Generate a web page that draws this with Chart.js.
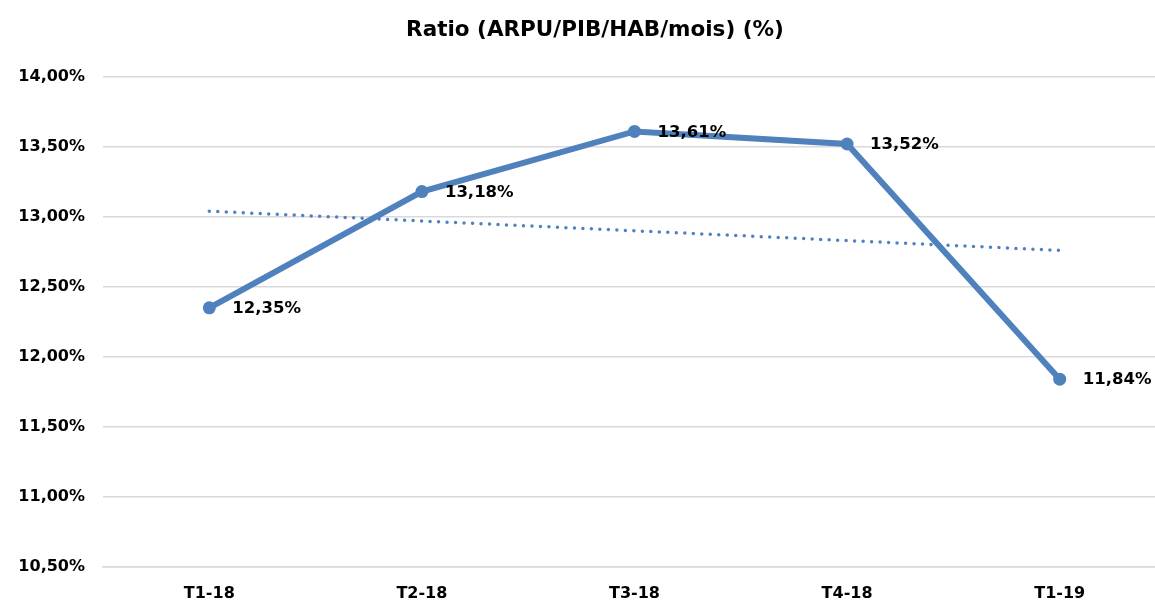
<!DOCTYPE html>
<html lang="fr">
<head>
<meta charset="utf-8" />
<title>Ratio (ARPU/PIB/HAB/mois) (%)</title>
<script src="https://cdn.jsdelivr.net/npm/chart.js@4.4.0/dist/chart.umd.min.js"></script>
<style>
    html, body { margin: 0; padding: 0; background: #fff; overflow: hidden; height: 604px; }
    canvas { display: block; }
</style>
</head>
<body>
<canvas id="chart" width="1190" height="620"></canvas>
<script>
    const labels = ['T1-18', 'T2-18', 'T3-18', 'T4-18', 'T1-19'];
    const ratio = [12.35, 13.18, 13.61, 13.52, 11.84];
    // trend line end points
    const trend = [13.04, null, null, null, 12.76];
    const yTicks = [10.5, 11, 11.5, 12, 12.5, 13, 13.5, 14];

    const FONT = '"DejaVu Sans", sans-serif';
    const fmt = v => v.toFixed(2).replace('.', ',') + '%';

    // draws value labels right of each point
    const pointLabels = {
        id: 'pointLabels',
        afterDatasetsDraw(chart) {
            const ctx = chart.ctx;
            const meta = chart.getDatasetMeta(0);
            ctx.save();
            ctx.font = 'bold 16.5px ' + FONT;
            ctx.fillStyle = '#000';
            ctx.textAlign = 'left';
            ctx.textBaseline = 'middle';
            meta.data.forEach((pt, i) => {
                ctx.fillText(fmt(ratio[i]), pt.x + 23, pt.y + 1);
            });
            ctx.restore();
        }
    };

    new Chart(document.getElementById('chart'), {
        type: 'line',
        data: {
            labels: labels,
            datasets: [{
                data: ratio,
                borderColor: '#4F81BD',
                backgroundColor: '#4F81BD',
                borderWidth: 6,
                pointRadius: 6.5,
                pointHoverRadius: 6.5,
                pointBackgroundColor: '#4F81BD',
                pointBorderWidth: 0,
                tension: 0,
                order: 1
            }, {
                data: trend,
                spanGaps: true,
                borderColor: '#4F81BD',
                borderWidth: 3.5,
                borderDash: [0, 8.5],
                borderCapStyle: 'round',
                pointRadius: 0,
                order: 2
            }]
        },
        options: {
            responsive: false,
            animation: false,
            layout: { padding: 0 },
            plugins: {
                legend: { display: false },
                tooltip: { enabled: false },
                title: {
                    display: true,
                    text: 'Ratio (ARPU/PIB/HAB/mois) (%)',
                    color: '#000',
                    font: { family: FONT, size: 21.5, weight: 'bold' },
                    padding: { top: 18, bottom: 33 }
                }
            },
            scales: {
                y: {
                    min: 10.5,
                    max: 14,
                    afterBuildTicks: s => { s.ticks = yTicks.map(v => ({ value: v })); },
                    afterFit: s => { s.width = 103; },
                    grid: { color: '#D9D9D9', lineWidth: 1.5, drawTicks: false },
                    border: { display: false },
                    ticks: {
                        color: '#000',
                        padding: 18,
                        font: { family: FONT, size: 16, weight: 'bold' },
                        callback: v => fmt(v)
                    }
                },
                // empty spacer on the right, keeps the plot wider than the window
                yRight: {
                    position: 'right',
                    min: 10.5,
                    max: 14,
                    afterFit: s => { s.width = 24; },
                    grid: { drawOnChartArea: false, drawTicks: false },
                    border: { display: false },
                    ticks: { display: false }
                },
                x: {
                    offset: true,
                    grid: { display: false, drawTicks: false },
                    border: { color: '#D9D9D9', width: 1.5 },
                    ticks: {
                        color: '#000',
                        padding: 17,
                        font: { family: FONT, size: 16, weight: 'bold' }
                    }
                }
            }
        },
        plugins: [pointLabels]
    });
</script>
</body>
</html>
